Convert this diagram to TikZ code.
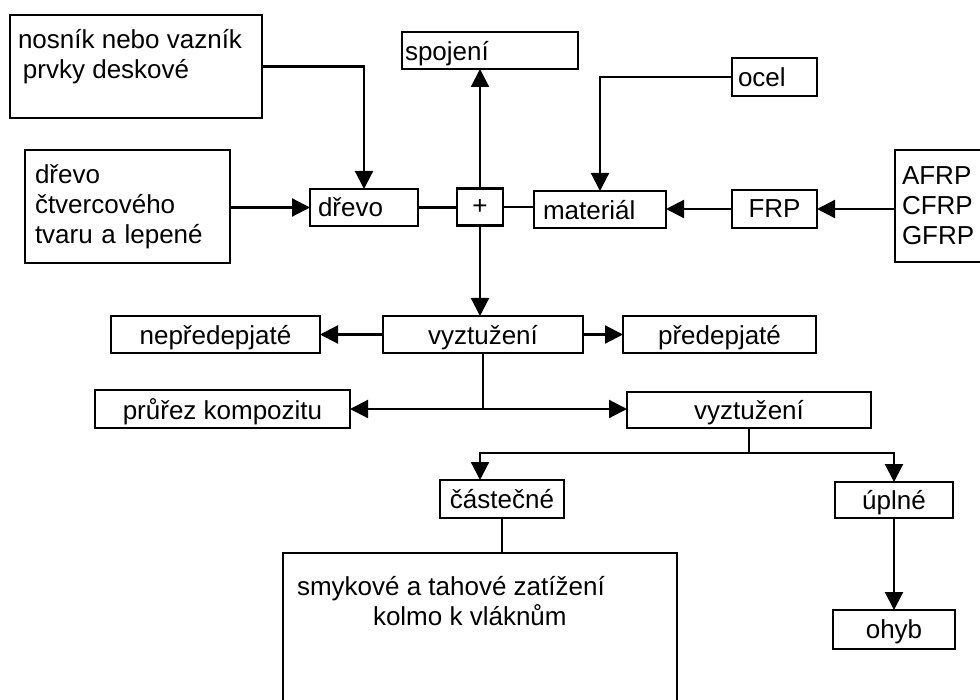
\documentclass[tikz,border=0pt]{standalone}
\usepackage{fontspec}
\setmainfont{Liberation Sans}
\usetikzlibrary{arrows.meta}
\tikzset{
  blok/.style={draw, rectangle, line width=2.6pt, inner xsep=0pt, inner ysep=3pt, outer sep=0pt, font=\fontsize{26}{30}\selectfont},
  radek/.style={blok, text depth=0pt},
  sipka/.style={-{Triangle[length=18pt,width=18pt]}, line width=2.2pt},
  spoj/.style={line width=2.2pt}
}
\begin{document}
\begin{tikzpicture}[x=1pt, y=-1pt]
\useasboundingbox (0,0) rectangle (980,700);
\clip (0,0) rectangle (980,700);

\node[blok, minimum width=252pt, minimum height=103pt] (nosnik) at (136,66.5) {\parbox[c][97pt][t]{236pt}{\vspace*{11pt}nosník nebo vazník\\\hspace*{5pt}prvky deskové}};
\node[blok, minimum width=205pt, minimum height=113pt, text width=185pt, align=left] (drevobox) at (127.5,206.5) {dřevo\\čtvercového\\tvaru a lepené};
\node[radek, minimum width=108pt, minimum height=37pt, text width=92pt, align=left] (drevo) at (364,207.5) {dřevo};
\node[blok, minimum width=46pt, minimum height=37pt] (plus) at (480,207) {+};
\node[radek, minimum width=176pt, minimum height=37pt, text width=170pt, align=left] (spojeni) at (490,50.5) {spojení};
\node[radek, minimum width=132pt, minimum height=37pt, text width=114pt, align=left] (material) at (600,209.5) {materiál};
\node[radek, minimum width=85pt, minimum height=38pt, text width=73pt, align=left] (ocel) at (774.5,77) {ocel};
\node[radek, minimum width=85pt, minimum height=38pt] (frp) at (774.5,209) {FRP};
\node[blok, minimum width=110pt, minimum height=112pt, text width=96pt, align=left] (afrp) at (950,206) {AFRP\\CFRP\\GFRP};

\node[radek, minimum width=209pt, minimum height=37pt] (neprede) at (215.5,334.5) {nepředepjaté};
\node[radek, minimum width=200pt, minimum height=37pt] (vyzt1) at (483,334.5) {vyztužení};
\node[radek, minimum width=193pt, minimum height=37pt] (prede) at (719.5,334.5) {předepjaté};
\node[radek, minimum width=255pt, minimum height=38pt] (prurez) at (222.5,409) {průřez kompozitu};
\node[radek, minimum width=244pt, minimum height=36pt] (vyzt2) at (749,410) {vyztužení};

\node[radek, minimum width=124pt, minimum height=38pt] (castecne) at (502,499) {částečné};
\node[radek, minimum width=118pt, minimum height=36pt] (uplne) at (894,500) {úplné};
\node[radek, minimum width=122pt, minimum height=39pt] (ohyb) at (894,629.5) {ohyb};
\node[blok, minimum width=394pt, minimum height=167pt] (zatizeni) at (480,636.5) {\parbox[c][161pt][t]{380pt}{\vspace*{20pt}\hspace*{7pt}smykové a tahové zatížení\\\hspace*{83pt}kolmo k vláknům}};

\draw[sipka] (nosnik.east) -| (drevo.north);
\draw[sipka] (drevobox.east |- drevo.west) -- (drevo.west);
\draw[spoj] (drevo.east) -- (drevo.east -| plus.west);
\draw[spoj] (plus.east) -- (plus.east -| material.west);
\draw[sipka] (plus.north) -- (plus.north |- spojeni.south);
\draw[sipka] (ocel.west) -| (material.north);
\draw[sipka] (frp.west) -- (frp.west -| material.east);
\draw[sipka] (afrp.west |- frp.east) -- (frp.east);

\draw[sipka] (plus.south) -- (plus.south |- vyzt1.north);
\draw[sipka] (vyzt1.west) -- (neprede.east);
\draw[sipka] (vyzt1.east) -- (prede.west);
\coordinate (uzel1) at (vyzt1.south |- prurez.east);
\draw[spoj] (vyzt1.south) -- (uzel1);
\draw[sipka] (uzel1) -- (prurez.east);
\draw[sipka] (uzel1) -- (uzel1 -| vyzt2.west);

\coordinate (uzel2) at ([yshift=-25pt]vyzt2.south);
\draw[spoj] (vyzt2.south) -- (uzel2);
\draw[sipka] (uzel2) -| ([xshift=-22pt]castecne.north);
\draw[sipka] (uzel2) -| (uplne.north);
\draw[spoj] (castecne.south) -- (castecne.south |- zatizeni.north);
\draw[sipka] (uplne.south) -- (ohyb.north);
\end{tikzpicture}
\end{document}
